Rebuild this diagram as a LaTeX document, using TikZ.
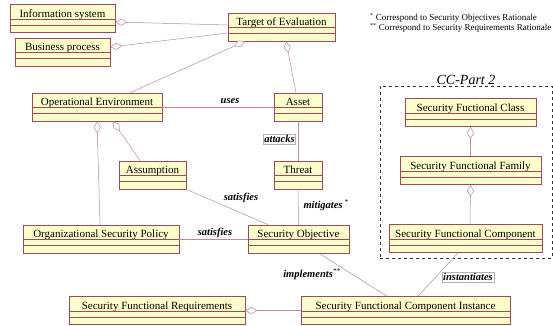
\documentclass[tikz,border=0pt]{standalone}
\usepackage{fontspec}
\setmainfont{Liberation Serif}
\usetikzlibrary{arrows.meta}
\definecolor{boxfill}{HTML}{FFFFCC}
\definecolor{boxdraw}{HTML}{A0485E}
\definecolor{linkcol}{HTML}{C0889A}

\begin{document}
\begin{tikzpicture}[x=1pt,y=-1pt,
		cls/.style={draw=boxdraw, fill=boxfill, line width=0.6pt, inner xsep=0pt, inner ysep=2pt,
			text height=10.5pt, text depth=13.5pt, minimum width=#1, font=\fontsize{11}{13}\selectfont},
		link/.style={draw=linkcol, line width=0.5pt},
		agg/.style={link, {Diamond[open, fill=white, length=12pt, width=7pt]}-},
		rel/.style={font=\fontsize{10.5}{12}\selectfont\bfseries\itshape, inner sep=1pt},
		relbox/.style={rel, draw=gray!60, fill=white, inner sep=1pt}]
	\useasboundingbox (0,0) rectangle (553,325);
	% classes
	\node[cls=105pt] (is) at (62.5,18.5) {Information system};
	\node[cls=95pt] (bp) at (62.5,52) {Business process};
	\node[cls=107pt] (toe) at (281.5,27) {Target of Evaluation};
	\node[cls=130pt] (oe) at (97,107) {Operational Environment};
	\node[cls=48pt] (asset) at (298,107) {Asset};
	\node[cls=48pt] (threat) at (298,175) {Threat};
	\node[cls=67pt] (assum) at (152.5,175) {Assumption};
	\node[cls=156pt] (osp) at (101,239) {Organizational Security Policy};
	\node[cls=101pt] (so) at (298.5,239) {Security Objective};
	\node[cls=176pt] (sfr) at (157,310.5) {Security Functional Requirements};
	\node[cls=209pt] (sfci) at (405.5,310.5) {Security Functional Component Instance};
	\node[cls=131pt] (sfcl) at (470.5,112.5) {Security Fuctional Class};
	\node[cls=141pt] (sff) at (470.5,170.5) {Security Functional Family};
	\node[cls=153pt] (sfc) at (465.5,238.5) {Security Functional Component};
	\foreach \n in {is,bp,toe,oe,asset,threat,assum,osp,so,sfr,sfci,sfcl,sff,sfc}
		\draw[boxdraw, line width=0.5pt] ([yshift=-15pt]\n.north west) -- ([yshift=-15pt]\n.north east)
			([yshift=-21pt]\n.north west) -- ([yshift=-21pt]\n.north east);

	% CC part 2 frame
	\node[draw=black!80, dashed, line width=0.7pt, minimum width=172pt, minimum height=172pt] (part2) at (466,172) {};
	\node[font=\fontsize{14}{16}\selectfont\itshape, above, inner sep=1pt] (part2lbl) at (part2.north) {CC-Part 2};

	% notes
	\node[anchor=west, font=\fontsize{9}{10}\selectfont, inner sep=0pt] (note1) at (370,18) {\textsuperscript{*} Correspond to Security Objectives Rationale};
	\node[anchor=west, font=\fontsize{9}{10}\selectfont, inner sep=0pt] (note2) at (370,28) {\textsuperscript{**} Correspond to Security Requirements Rationale};

	% links
	\draw[agg] ([yshift=-3.5pt]is.east) -- ([yshift=2pt]toe.west);
	\draw[agg] ([yshift=5pt]bp.east) -- ([yshift=-6pt]toe.west);
	\draw[agg] ([xshift=-36.5pt]toe.south) -- ([xshift=33pt]oe.north);
	\draw[agg] ([xshift=4.5pt]toe.south) -- ([xshift=-2pt]asset.north);
	\draw[link] (oe.east) -- (asset.west);
	\draw[link] (asset.south) -- (threat.north);
	\draw[link] (threat.south) -- (so.north);
	\draw[agg] (oe.south) -- ([xshift=-1pt]osp.north);
	\draw[agg] ([xshift=16pt]oe.south) -- ([xshift=-12.5pt]assum.north);
	\draw[link] (assum.south east) -- ([xshift=-30.5pt]so.north);
	\draw[link] (osp.east) -- (so.west);
	\draw[link] ([xshift=20.5pt]so.south) -- ([xshift=-18.5pt]sfci.north);
	\draw[link] ([xshift=-7.5pt]sfc.south) -- ([xshift=12.5pt]sfci.north);
	\draw[agg] (sfr.east) -- (sfci.west);
	\draw[agg] (sfcl.south) -- (sff.north);
	\draw[agg] (sff.south) -- ([xshift=4.5pt]sfc.north);

	% link labels
	\node[rel] (uses) at (230,101) {uses};
	\node[relbox] (attacks) at (279.5,139) {attacks};
	\node[rel] (mitig) at (326,205) {mitigates\,\textsuperscript{\mdseries *}};
	\node[rel] (sat1) at (241,198) {satisfies};
	\node[rel] (sat2) at (215,233) {satisfies};
	\node[rel] (impl) at (312,274) {implements\textsuperscript{\mdseries **}};
	\node[relbox] (inst) at (468,277) {instantiates};
\end{tikzpicture}
\end{document}
